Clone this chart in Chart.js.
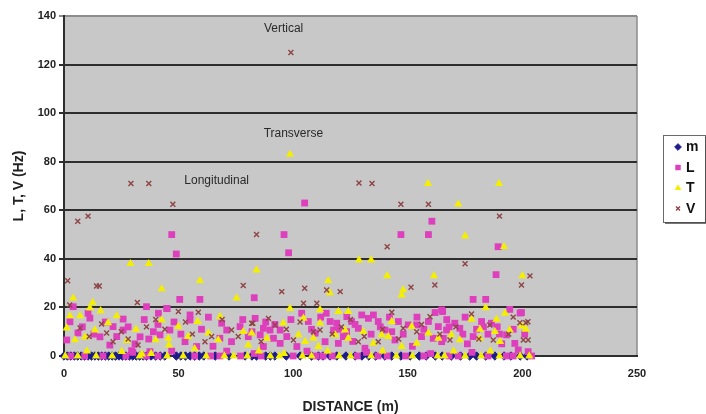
<!DOCTYPE html>
<html>
<head>
<meta charset="utf-8">
<title>L, T, V vs distance</title>
<script src="https://cdn.jsdelivr.net/npm/chart.js@4.4.1/dist/chart.umd.min.js"></script>
<style>
    html, body { margin: 0; padding: 0; background: #ffffff; }
    #wrap { width: 706px; height: 414px; }
</style>
</head>
<body>
<div id="wrap"><canvas id="myScatterChart" width="706" height="414"></canvas></div>
<script>
// series names, in legend order
var seriesNames = ['m', 'L', 'T', 'V'];

// m : all readings sit on the zero line (distance, value)
var mPoints = [
    [0,0],[1.5,0],[3,0],[4.5,0],[6,0],[7.5,0],[9,0],[10.5,0],[12,0],[13.5,0],[15,0],[16.5,0],
    [18,0],[19.5,0],[21,0],[22.5,0],[24,0],[25.5,0],[27,0],[28.5,0],[30,0],[31.5,0],[33,0],
    [34.5,0],[36,0],[38,0],[40,0],[42,0],[44,0],[49,0],[51,0],[53,0],[55,0],[57,0],[59,0],
    [61,0],[66,0],[72,0],[79,0],[82,0],[84,0],[88,0],[90,0],[92,0],[97,0],[103,0],[108,0],
    [111,0],[113,0],[116,0],[119,0],[123,0],[127,0],[130,0],[133,0],[136,0],[140,0],[143,0],
    [147,0],[151,0],[155,0],[158,0],[162,0],[165,0],[169,0],[173,0],[177,0],[180,0],[184,0],
    [188,0],[192,0],[195,0],[199,0],[202,0]
];

// L : longitudinal (distance, Hz)
var lPoints = [
    [47,50],[49,42],[105,63],[96,50],[98,42.5],[83,24],[50.5,23.3],[59.3,23.3],[147,50],[159,50],
    [160.5,55.5],[189.4,45],[188.5,33.5],[178.5,23.3],[184,23.3],[36,20.3],[45,19.5],[4,20.3],
    [11.3,15.6],[10.5,17.6],[25.8,15.2],[2.6,14.1],[21.4,12.1],[6.1,9.5],[25.8,10.7],[15.7,7.9],
    [1.2,6.6],[33.2,7.9],[37,7],[20,4.5],[29.5,2.2],[37.5,1.8],[41,13],
    [44.8,19.6],[55,16.9],[41.2,17.6],[46.2,10.7],[41.9,8.7],[55,14.8],[68.8,13.5],[71,10.7],
    [76.8,12.1],[80.4,8],[52.8,5.9],[73.1,5.9],[57.9,3.9],[68,7.3],
    [103.7,17.6],[114.4,17.6],[123.4,16.2],[83.4,15.5],[87,11.4],[89.9,10.7],[94.3,10.7],
    [106.6,14.2],[116.1,14.2],[119,13.5],[109.6,9.4],[117.6,10.7],[85.6,8.7],[91.4,7.3],[97.2,8],
    [113.9,5.9],[121.9,8],[119.7,5.2],[94.3,5.2],[101.6,3.9],[87,3.9],
    [129.9,16.9],[135,16.9],[161.9,17.9],[164.8,19],[125.5,14.2],[132.8,15.5],[137.1,14.2],
    [145.9,14.2],[150.2,12.8],[159,14.2],[163.3,12.1],[128.4,11.4],[140,10.7],[153.9,12.8],
    [161.1,7.3],[123.3,10],[144.4,6.6],[156,8],[131.3,3.2],[164.8,5.9],
    [194.5,19.2],[199.6,17.9],[165.2,18.3],[170.5,13.5],[182.2,14.2],[186.5,13.5],[166.9,10.7],
    [172.7,11.4],[193.1,8.7],[196.7,5.2],[178.5,8],[165.5,7.3],[198.2,2.5],[202.5,1.8],[199,17.7],
    [8,12],[13,9],[18,14],[23,8],[28,12],[31,5],[35,15],[39,10],[48,14],[51,9],[60,11],[63,16],
    [65,4],[78,15],[82,10],[92,13],[99,15],[108,11],[112,16],[126,6],[134,9],[142,16],[148,9],
    [152,4],[157,11],[167,15],[175,16],[176,5],[180,11],[185,9],[189,12],[191,5],[196,11],[201,9],
    [138,12],[143,10],[154,16],[168,12],[174,9],[183,12],[190,9],[127,13],[120,11],[88,14],
    [30,1.5],[47,2],[71,2],[83,1],[106,2],[132,1.5],[160,1],[178,1.5],
    [3,0],[9,0],[17,0],[27,0],[36,0],[41,0],[57,0],[64,0],[68,0],[77,0],[86,0],[100,0],[110,0],
    [113,0],[117,0],[128,0],[137,0],[141,0],[149,0],[157,0],[168,0],[172,0],[185,0],[193,0],
    [196,0],[204,0]
];

// T : transverse (distance, Hz)
var tPoints = [
    [98.6,83],[29,38],[37,38],[59.3,31],[42.6,27.6],[84,35.4],[75.3,23.8],[115.3,31],[116,26],
    [128.7,39.5],[134,39.5],[158.8,71],[189.8,71],[172,62.5],[175,49.4],[192,45],[141,33],
    [161.4,33],[147.3,25.1],[148,27.2],[200,33],[184,19.8],[4,23.8],[12.5,22],[11.3,19.7],
    [16,18.6],[98.6,19.5],[111.7,19],[119.7,18.3],[124,18.3],[192.4,17.6],
    [2.6,16.5],[7,16.5],[23,16.5],[19.2,13.7],[31.4,11],[1.2,11.5],[13.5,10.7],[9.2,7.8],
    [4.8,6.6],[27.4,6.3],[40,6.6],[25.2,1.8],[34,0.8],
    [42.6,14.8],[49.9,12.1],[58.3,14.2],[68.1,16.2],[78.2,10],[63,9.4],[54.2,8],[67.3,6.6],
    [80.4,4.5],[45.5,7.3],[45.8,4.5],
    [104.5,15.5],[95.7,13.5],[111.7,13.5],[122.6,10.7],[81.9,9.4],[88.5,7.3],[102.3,8.7],
    [108.8,7.3],[118.3,8.7],[105.2,5.9],[111,3.9],
    [143,14.2],[130.6,10],[138.6,8.7],[151.7,12.1],[159,9.4],[163.3,7.3],[141.5,8],[124,7.3],
    [135,5.2],[153.9,5.2],[147.3,3.9],
    [177.8,15.1],[188.7,15.1],[201.5,11],[181.5,11],[188,10],[194.5,10.7],[190.2,5.9],
    [172.7,6.6],[181.5,7.3],[169,8.7],[199.7,12.3],
    [10,2],[38,1],[57,3],[85,2],[96,1],[115,2],[139,2],[170,2],[186,2],
    [0.5,0],[6,0],[14,0],[21,0],[33,0],[45,0],[52,0],[62,0],[70,0],[74,0],[80,0],[90,0],[94,0],
    [104,0],[108,0],[120,0],[125,0],[134,0],[145,0],[152,0],[163,0],[166,0],[175,0],[182,0],
    [190,0],[199,0],[203,0]
];

// V : vertical (distance, Hz)
var vPoints = [
    [99,125],[29.2,71],[37,71],[47.5,62.5],[6,55.5],[10.5,57.6],[84,50],[1.6,31],[14.2,28.8],
    [15.4,28.8],[78.2,29],[95,26.5],[105,27.9],[114.6,27.2],[120.5,26.5],[128.7,71.2],[134.4,71],
    [147,62.5],[159,62.5],[190,57.6],[141,45],[175,38],[151.4,28.3],[161.8,29.2],[199.6,29.2],
    [203.3,33],[32,22],[2.5,21],[104.5,21.7],[110.3,21.7],
    [16.4,13.2],[7,11.5],[18.6,9.5],[21.4,5.9],[32.3,4.5],[58.6,18],[49.9,18.3],[73.1,10.7],
    [81.9,13.5],[64.4,8],[61.5,5.9],[89.2,15.5],[82.4,13.5],[92.1,12.8],[108.8,10],[111.7,10.7],
    [100.1,6.6],[143,18],[159.7,16.2],[148,11.4],[153.9,10],[128.4,5.9],[137.1,5.9],[177.8,17.3],
    [198.9,13.7],[201.5,13.7],[185.8,12.8],[200.4,6.6],[202.5,6.6],[168.4,6.6],[187.3,6.6],
    [202.4,14.1],
    [11,8],[25,10],[28,7],[36,12],[40,15],[44,11],[53,14],[56,9],[69,15],[76,8],[86,6],[97,11],
    [103,14],[117,9],[121,12],[125,15],[131,8],[139,11],[146,7],[156,13],[164,9],[171,12],
    [181,7],[194,9],[196,16]
];

// axis ranges and tick steps
var xTicks = [0, 50, 100, 150, 200, 250];
var yTicks = [0, 20, 40, 60, 80, 100, 120, 140];

// the three text notes on the plot, in data units
var noteTexts = ['Vertical', 'Transverse', 'Longitudinal'];
var noteX = [95.8, 100.1, 66.6];
var noteY = [134.6, 91.4, 72];

function toXY(points) {
    return points.map(function(p) { return { x: p[0], y: p[1] }; });
}

var seriesStyles = [
    { pointStyle: 'rectRot',  color: '#1c1c8a', radius: 4.2, border: 1 },
    { pointStyle: 'rect',     color: '#dd3fbd', radius: 4.8, border: 0 },
    { pointStyle: 'triangle', color: '#f4ee00', radius: 4.8, border: 0 },
    { pointStyle: 'crossRot', color: '#8e4444', radius: 3.5, border: 1.4 }
];
var seriesData = [mPoints, lPoints, tPoints, vPoints];

// gray plot area behind everything
var plotBackground = {
    id: 'plotBackground',
    beforeDraw: function(chart) {
        var a = chart.chartArea, c = chart.ctx;
        c.save();
        c.fillStyle = '#c8c8c8';
        c.fillRect(a.left, a.top, a.right - a.left, a.bottom - a.top);
        c.strokeStyle = '#8c8c8c';
        c.lineWidth = 1.5;
        c.beginPath();
        c.moveTo(a.right, a.top);
        c.lineTo(a.right, a.bottom);
        c.stroke();
        c.restore();
    }
};

// notes placed through the scales
var plotNotes = {
    id: 'plotNotes',
    afterDatasetsDraw: function(chart) {
        var c = chart.ctx, xs = chart.scales.x, ys = chart.scales.y;
        c.save();
        c.font = '12px "Liberation Sans", Arial, sans-serif';
        c.fillStyle = '#2a2a2a';
        c.textAlign = 'center';
        c.textBaseline = 'middle';
        noteTexts.forEach(function(t, i) {
            c.fillText(t, xs.getPixelForValue(noteX[i]), ys.getPixelForValue(noteY[i]));
        });
        c.restore();
    }
};

// boxed legend to the right of the plot
var boxLegend = {
    id: 'boxLegend',
    afterDraw: function(chart) {
        var c = chart.ctx, a = chart.chartArea;
        var left = a.right + 26, top = 135, w = 42, h = 87;
        c.save();
        c.fillStyle = '#ffffff';
        c.fillRect(left, top, w, h);
        c.strokeStyle = '#6a6a6a';
        c.lineWidth = 1;
        c.strokeRect(left + 0.5, top + 0.5, w, h);
        c.strokeStyle = '#4a4a4a';
        c.lineWidth = 1.5;
        c.beginPath();
        c.moveTo(left + w + 1, top + 2);
        c.lineTo(left + w + 1, top + h + 1);
        c.lineTo(left + 2, top + h + 1);
        c.stroke();

        c.font = 'bold 14px "Liberation Sans", Arial, sans-serif';
        c.textBaseline = 'middle';
        c.textAlign = 'left';
        seriesNames.forEach(function(name, i) {
            var s = seriesStyles[i];
            var y = top + 12 + i * 20.5;
            c.fillStyle = s.color;
            c.strokeStyle = s.color;
            c.lineWidth = s.border;
            Chart.helpers.drawPoint(c, {
                pointStyle: s.pointStyle,
                radius: s.radius * 0.8,
                rotation: 0,
                borderWidth: s.border
            }, left + 15, y);
            c.fillStyle = '#111111';
            c.fillText(name, left + 23, y + 0.5);
        });
        c.restore();
    }
};

var ctx = document.getElementById('myScatterChart').getContext('2d');

var myScatterChart = new Chart(ctx, {
    type: 'scatter',
    data: {
        datasets: seriesNames.map(function(name, i) {
            var s = seriesStyles[i];
            return {
                label: name,
                data: toXY(seriesData[i]),
                pointStyle: s.pointStyle,
                pointRadius: s.radius,
                pointHoverRadius: s.radius,
                backgroundColor: s.color,
                borderColor: s.color,
                pointBorderWidth: s.border,
                clip: false,
                order: 4 - i // V on top, m underneath
            };
        })
    },
    options: {
        responsive: false,
        animation: false,
        events: [],
        layout: { padding: { top: 16, right: 69, bottom: 0, left: 0 } },
        plugins: {
            legend: { display: false },
            tooltip: { enabled: false }
        },
        scales: {
            x: {
                type: 'linear',
                min: xTicks[0],
                max: xTicks[xTicks.length - 1],
                afterBuildTicks: function(scale) {
                    scale.ticks = xTicks.map(function(v) { return { value: v }; });
                },
                afterFit: function(scale) { scale.height = 58; },
                grid: { display: true, drawOnChartArea: false, drawTicks: false },
                border: { display: true, color: '#2e2e2e', width: 2 },
                ticks: {
                    padding: 11,
                    color: '#222222',
                    font: { family: '"Liberation Sans", Arial, sans-serif', size: 11, weight: 'bold' }
                },
                title: {
                    display: true,
                    text: 'DISTANCE (m)',
                    color: '#222222',
                    padding: { top: 0, bottom: 0 },
                    font: { family: '"Liberation Sans", Arial, sans-serif', size: 14, weight: 'bold', lineHeight: 1 }
                }
            },
            y: {
                type: 'linear',
                min: yTicks[0],
                max: yTicks[yTicks.length - 1],
                afterBuildTicks: function(scale) {
                    scale.ticks = yTicks.map(function(v) { return { value: v }; });
                },
                afterFit: function(scale) { scale.width = 64; },
                grid: {
                    color: function(c) { return c.tick && c.tick.value === 140 ? '#8c8c8c' : '#2e2e2e'; },
                    lineWidth: 2,
                    tickLength: 5
                },
                border: { display: true, color: '#2e2e2e', width: 2 },
                ticks: {
                    padding: 3,
                    color: '#222222',
                    font: { family: '"Liberation Sans", Arial, sans-serif', size: 11, weight: 'bold' }
                },
                title: {
                    display: true,
                    text: 'L, T, V (Hz)',
                    color: '#222222',
                    padding: { top: 12, bottom: 0 },
                    font: { family: '"Liberation Sans", Arial, sans-serif', size: 14, weight: 'bold', lineHeight: 1 }
                }
            }
        }
    },
    plugins: [plotBackground, plotNotes, boxLegend]
});
</script>
</body>
</html>
